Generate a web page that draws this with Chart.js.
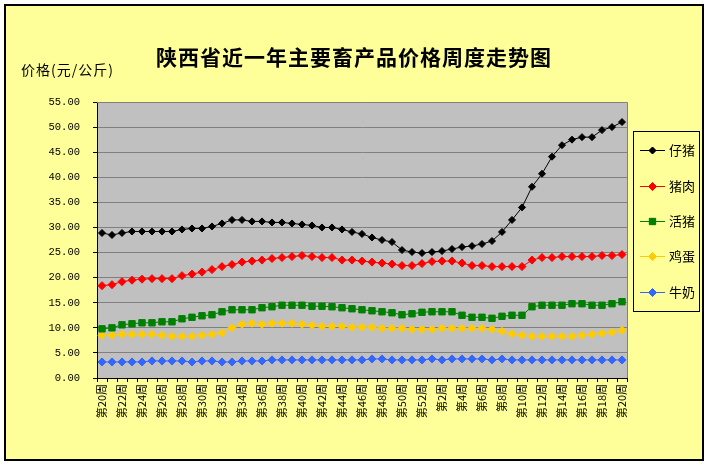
<!DOCTYPE html>
<html>
<head>
<meta charset="utf-8">
<script src="https://cdn.jsdelivr.net/npm/chart.js@4"></script>
<style>
  html, body { margin: 0; padding: 0; background: #ffffff; }
  canvas { display: block; }
</style>
</head>
<body>
<canvas id="c" width="709" height="466"></canvas>
<script>
const weeks = ['第20周','第21周','第22周','第23周','第24周','第25周','第26周','第27周','第28周','第29周',
  '第30周','第31周','第32周','第33周','第34周','第35周','第36周','第37周','第38周','第39周',
  '第40周','第41周','第42周','第43周','第44周','第45周','第46周','第47周','第48周','第49周',
  '第50周','第51周','第52周','第1周','第2周','第3周','第4周','第5周','第6周','第7周',
  '第8周','第9周','第10周','第11周','第12周','第13周','第14周','第15周','第16周','第17周',
  '第18周','第19周','第20周'];

const piglet = [28.9,28.5,28.9,29.2,29.2,29.2,29.2,29.2,29.6,29.8,
  29.8,30.2,30.8,31.5,31.5,31.2,31.2,31.0,31.0,30.8,
  30.6,30.4,30.0,30.0,29.6,29.1,28.7,28.0,27.5,27.1,
  25.5,25.1,24.9,25.1,25.3,25.7,26.1,26.3,26.7,27.3,
  29.1,31.5,34.0,38.1,40.7,44.1,46.4,47.5,48.0,48.0,
  49.4,50.0,51.0];

const pork = [18.4,18.6,19.2,19.5,19.7,19.8,19.8,19.8,20.4,20.7,
  21.1,21.6,22.2,22.6,23.1,23.3,23.5,23.8,24.0,24.2,
  24.4,24.2,24.0,24.0,23.5,23.5,23.3,23.1,22.9,22.7,
  22.4,22.4,22.8,23.2,23.3,23.3,22.9,22.4,22.4,22.2,
  22.2,22.2,22.2,23.5,24.0,24.0,24.2,24.2,24.2,24.2,
  24.4,24.4,24.6];

const livePig = [9.8,10.0,10.6,10.8,11.0,11.0,11.2,11.2,11.8,12.1,
  12.4,12.6,13.2,13.6,13.6,13.6,14.0,14.2,14.5,14.5,
  14.5,14.3,14.3,14.2,14.0,13.8,13.6,13.4,13.2,13.0,
  12.6,12.8,13.1,13.2,13.2,13.2,12.5,12.1,12.1,11.9,
  12.3,12.5,12.5,14.2,14.5,14.5,14.5,14.8,14.8,14.5,
  14.5,14.8,15.2];

const eggs = [8.5,8.5,8.7,8.7,8.7,8.7,8.5,8.3,8.3,8.3,
  8.5,8.7,9.0,10.0,10.7,10.9,10.7,10.9,10.9,10.9,
  10.7,10.5,10.3,10.3,10.3,10.1,10.1,10.1,9.9,9.9,
  9.9,9.7,9.7,9.7,9.9,9.9,9.9,9.9,9.9,9.7,
  9.3,8.8,8.5,8.3,8.3,8.3,8.3,8.3,8.5,8.7,
  8.9,9.1,9.5];

const milk = [3.2,3.2,3.2,3.2,3.2,3.4,3.4,3.4,3.4,3.2,
  3.4,3.4,3.2,3.2,3.4,3.4,3.4,3.6,3.6,3.6,
  3.6,3.6,3.6,3.6,3.6,3.6,3.6,3.8,3.8,3.6,
  3.6,3.6,3.6,3.8,3.6,3.8,3.8,3.8,3.8,3.6,
  3.8,3.6,3.6,3.6,3.6,3.6,3.6,3.6,3.6,3.6,
  3.6,3.6,3.6];

const seriesNames = ['仔猪','猪肉','活猪','鸡蛋','牛奶'];
const seriesColors = ['#000000','#FF0000','#008000','#FFCC00','#3366FF'];
const seriesMarkers = ['rectRot','rectRot','rect','rectRot','rectRot'];
const seriesRadius = [3.5,4,4.5,4,4];
const seriesData = [piglet, pork, livePig, eggs, milk];

const titleText = '陕西省近一年主要畜产品价格周度走势图';
const yTitleText = '价格(元/公斤)';
const yMin = 0, yMax = 55, yStep = 5;

const CJK = '"Noto Sans CJK SC", "Noto Sans", sans-serif';

const decor = {
  id: 'decor',
  beforeDraw(chart) {
    const ctx = chart.ctx, a = chart.chartArea;
    ctx.save();
    ctx.fillStyle = '#FFFF99';
    ctx.fillRect(5, 5, 698, 455);
    ctx.fillStyle = '#C0C0C0';
    ctx.fillRect(a.left, a.top, a.right - a.left, a.bottom - a.top);
    ctx.restore();
  },
  beforeDatasetsDraw(chart) {
    const ctx = chart.ctx, a = chart.chartArea;
    ctx.save();
    ctx.strokeStyle = '#808080';
    ctx.lineWidth = 1;
    ctx.beginPath();
    ctx.moveTo(a.left, Math.round(a.top) + 0.5);
    ctx.lineTo(Math.round(a.right) + 0.5, Math.round(a.top) + 0.5);
    ctx.lineTo(Math.round(a.right) + 0.5, a.bottom);
    ctx.stroke();
    ctx.restore();
  },
  afterDraw(chart) {
    const ctx = chart.ctx;
    ctx.save();
    ctx.strokeStyle = '#000000';
    ctx.lineWidth = 2;
    ctx.strokeRect(5, 5, 698, 455);
    ctx.fillStyle = '#000000';
    ctx.font = 'bold 21px ' + CJK;
    ctx.textAlign = 'center';
    ctx.textBaseline = 'middle';
    if ('letterSpacing' in ctx) ctx.letterSpacing = '1px';
    ctx.fillText(titleText, 354, 57);
    ctx.font = '14px ' + CJK;
    ctx.textAlign = 'left';
    ctx.fillText(yTitleText, 21, 70);
    if ('letterSpacing' in ctx) ctx.letterSpacing = '0px';
    ctx.lineWidth = 1;
    ctx.strokeRect(633.5, 131.5, 66, 180);
    const ys = [150, 186, 221, 256, 292];
    seriesNames.forEach((name, i) => {
      const y = ys[i];
      ctx.strokeStyle = seriesColors[i];
      ctx.lineWidth = 1;
      ctx.beginPath();
      ctx.moveTo(640, y + 0.5);
      ctx.lineTo(665, y + 0.5);
      ctx.stroke();
      ctx.fillStyle = seriesColors[i];
      Chart.helpers.drawPoint(ctx, {pointStyle: seriesMarkers[i], radius: seriesRadius[i], borderWidth: 1, rotation: 0}, 652.5, y + 0.5);
      ctx.fill();
      ctx.fillStyle = '#000000';
      ctx.font = '13px ' + CJK;
      ctx.textAlign = 'left';
      ctx.textBaseline = 'middle';
      ctx.fillText(name, 669, y);
    });
    ctx.restore();
  }
};

new Chart(document.getElementById('c'), {
  type: 'line',
  data: {
    labels: weeks,
    datasets: seriesData.map((d, i) => ({
      label: seriesNames[i],
      data: d,
      borderColor: seriesColors[i],
      backgroundColor: seriesColors[i],
      pointBackgroundColor: seriesColors[i],
      pointBorderColor: seriesColors[i],
      pointStyle: seriesMarkers[i],
      pointRadius: seriesRadius[i],
      pointBorderWidth: 1,
      borderWidth: 1,
      tension: 0,
      fill: false
    }))
  },
  options: {
    responsive: false,
    animation: false,
    devicePixelRatio: 1,
    layout: { padding: { top: 102, right: 82, left: 0, bottom: 0 } },
    plugins: {
      legend: { display: false },
      title: { display: false },
      tooltip: { enabled: false }
    },
    scales: {
      x: {
        type: 'category',
        offset: true,
        grid: { display: true, offset: true, drawOnChartArea: false, drawTicks: true, tickLength: 4, tickColor: '#000000' },
        border: { display: true, color: '#000000', width: 1 },
        ticks: {
          autoSkip: false,
          maxRotation: 90,
          minRotation: 90,
          padding: 2,
          color: '#000000',
          font: { family: CJK, size: 11 },
          callback: function(v, idx) { return idx % 2 === 0 ? weeks[idx] : ''; }
        },
        afterFit(scale) { scale.height = 88; }
      },
      y: {
        min: yMin,
        max: yMax,
        grid: { color: '#808080', drawTicks: true, tickLength: 4, tickColor: '#000000' },
        border: { display: true, color: '#000000', width: 1 },
        ticks: {
          stepSize: yStep,
          padding: 13,
          color: '#000000',
          font: { family: '"Liberation Mono", "DejaVu Sans Mono", monospace', size: 10.5 },
          callback: v => Number(v).toFixed(2)
        },
        afterFit(scale) { scale.width = 97; }
      }
    }
  },
  plugins: [decor]
});
</script>
</body>
</html>
